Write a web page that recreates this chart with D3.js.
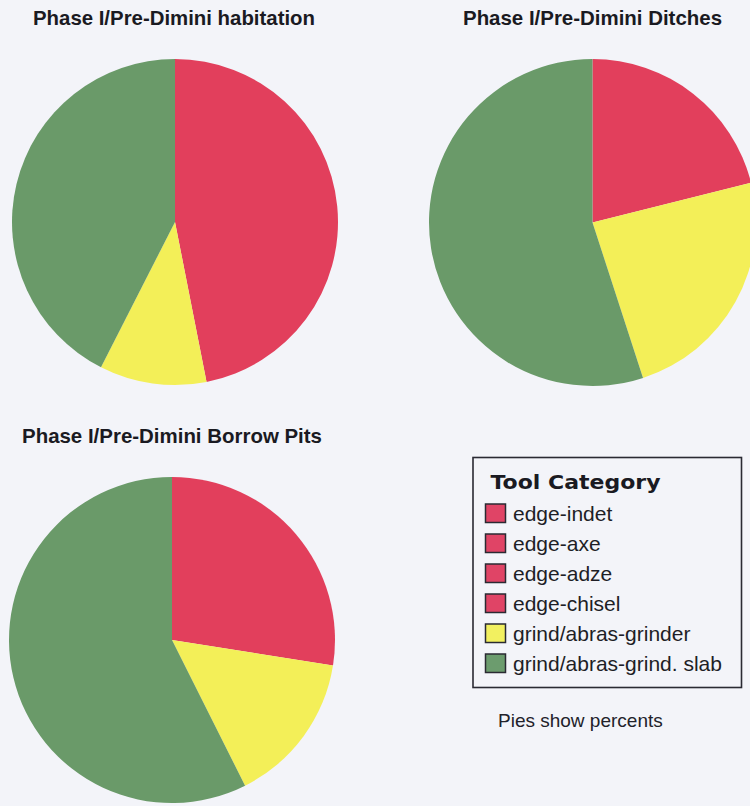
<!DOCTYPE html>
<html><head><meta charset="utf-8">
<script src="https://cdn.jsdelivr.net/npm/d3@7"></script>
<style>
html,body{margin:0;padding:0;background:#f3f4f9;}
svg{display:block;}
</style></head>
<body>
<script>
// ---- data ----
const categories = ["edge-indet", "edge-axe", "edge-adze", "edge-chisel", "grind/abras-grinder", "grind/abras-grind. slab"];
const categoryGroup = ["edge", "edge", "edge", "edge", "grinder", "slab"];
const pieTitles = ["Phase I/Pre-Dimini habitation", "Phase I/Pre-Dimini Ditches", "Phase I/Pre-Dimini Borrow Pits"];
const groups = ["edge", "grinder", "slab"];
// percent per visible colour group (edge types share one colour)
const edgePct    = [46.9, 21.1, 27.5];
const grinderPct = [10.6, 23.9, 15.1];
const slabPct    = [42.5, 55.0, 57.4];
const legendTitle = "Tool Category";
const footNote = "Pies show percents";

// ---- styles / layout ----
const W = 750, H = 806;
const color = d3.scaleOrdinal().domain(groups).range(["#e23f5c", "#f3ef58", "#6a9a69"]);
const legendColor = d3.scaleOrdinal().domain(groups).range(["#e04466", "#f2f060", "#6c9c6e"]);
const layout = [
  {cx: 175, cy: 222, r: 163, tx: 174, ty: 25, tw: 282},
  {cx: 592.5, cy: 222.5, r: 163.5, tx: 592.5, ty: 25, tw: 259},
  {cx: 172, cy: 640, r: 163, tx: 172, ty: 443, tw: 300}
];

const svg = d3.select("body").append("svg").attr("width", W).attr("height", H);

const pie = d3.pie().sort(null).value(d => d.v);
const arc = d3.arc().innerRadius(0);

pieTitles.forEach((t, i) => {
  const L = layout[i];
  const data = groups.map((g, j) => ({g, v: [edgePct, grinderPct, slabPct][j][i]}));
  const gp = svg.append("g").attr("transform", `translate(${L.cx},${L.cy})`);
  gp.selectAll("path").data(pie(data)).join("path")
    .attr("d", d => arc.outerRadius(L.r)(d))
    .attr("fill", d => color(d.data.g));
  svg.append("text")
    .attr("x", L.tx).attr("y", L.ty)
    .attr("text-anchor", "middle")
    .attr("font-family", "Liberation Sans, Arial, sans-serif")
    .attr("font-weight", "bold")
    .attr("font-size", 21)
    .attr("fill", "#1a1a22")
    .attr("textLength", L.tw).attr("lengthAdjust", "spacingAndGlyphs")
    .text(t);
});

// ---- legend ----
const lg = svg.append("g");
lg.append("rect").attr("x", 473).attr("y", 457.5).attr("width", 268.5).attr("height", 230)
  .attr("fill", "none").attr("stroke", "#2a2a33").attr("stroke-width", 1.6);
lg.append("text").attr("x", 490.5).attr("y", 488.5)
  .attr("font-family", "DejaVu Sans, Verdana, sans-serif").attr("font-weight", "bold")
  .attr("font-size", 19.5).attr("fill", "#1a1a22")
  .attr("textLength", 170).attr("lengthAdjust", "spacingAndGlyphs")
  .text(legendTitle);
const rowY = d3.scaleLinear().domain([0, 1]).range([504, 534]);
const items = lg.selectAll("g.item").data(categories).join("g").attr("class", "item")
  .attr("transform", (d, i) => `translate(0,${rowY(i)})`);
items.append("rect").attr("x", 485.5).attr("y", 0).attr("width", 20).attr("height", 18.5)
  .attr("fill", (d, i) => legendColor(categoryGroup[i]))
  .attr("stroke", "#2a2a33").attr("stroke-width", 1.5);
items.append("text").attr("x", 513).attr("y", 17)
  .attr("font-family", "Liberation Sans, Arial, sans-serif")
  .attr("font-size", 21).attr("fill", "#1e1e26").text(d => d);

svg.append("text").attr("x", 498).attr("y", 727)
  .attr("font-family", "Liberation Sans, Arial, sans-serif")
  .attr("font-size", 19).attr("fill", "#22222a").text(footNote);
</script>
</body></html>
